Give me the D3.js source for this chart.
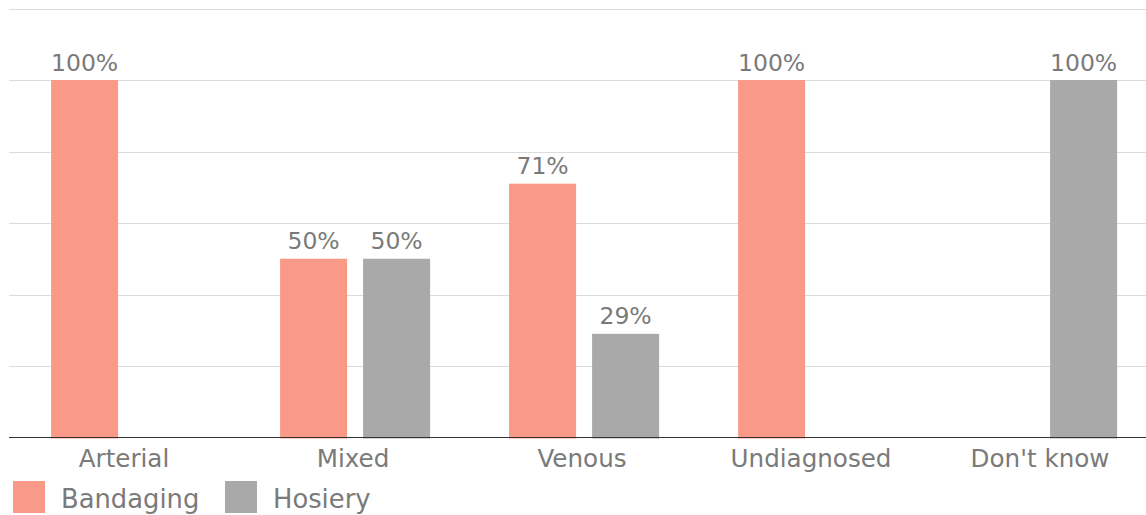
<!DOCTYPE html>
<html><head><meta charset="utf-8">
<script src="https://cdn.jsdelivr.net/npm/d3@7/dist/d3.min.js"></script>
<style>body{margin:0;background:#fff;}svg{display:block;font-family:"DejaVu Sans",Verdana,sans-serif;}</style>
</head><body>
<svg id="chart" width="1146" height="515"></svg>
<script>
const categories = ["Arterial","Mixed","Venous","Undiagnosed","Don't know"];
const series = ["Bandaging","Hosiery"];
const bandaging = [100, 50, 71, 100, null];
const hosiery = [null, 50, 29, null, 100];
const yTicks = [0, 20, 40, 60, 80, 100, 120];
const colors = {"Bandaging":"#f99a89","Hosiery":"#a9a9aa"};

const svg = d3.select("#chart");
const textColor = "#7a7a7a";
const y = d3.scaleLinear().domain([0, 100]).range([437.5, 80]);
const x = d3.scaleBand().domain(categories).range([11.5, 1156.5]).padding(0);
const xs = d3.scaleBand().domain(series).range([39.6, 189.6]).paddingInner(16/83).paddingOuter(0);

// gridlines
svg.append("g").selectAll("line").data(yTicks.filter(t => t > 0)).join("line")
  .attr("x1", 9).attr("x2", 1146)
  .attr("y1", d => Math.round(y(d)) + 0.5).attr("y2", d => Math.round(y(d)) + 0.5)
  .attr("stroke", "#dcdcdc").attr("stroke-width", 1);

const data = [];
categories.forEach((c, i) => {
  if (bandaging[i] != null) data.push({c, s: "Bandaging", v: bandaging[i]});
  if (hosiery[i] != null) data.push({c, s: "Hosiery", v: hosiery[i]});
});

svg.append("g").selectAll("rect").data(data).join("rect")
  .attr("x", d => x(d.c) + xs(d.s))
  .attr("width", xs.bandwidth())
  .attr("y", d => y(d.v))
  .attr("height", d => y(0) - y(d.v) + 1)
  .attr("fill", d => colors[d.s]);

svg.append("g").selectAll("text").data(data).join("text")
  .attr("x", d => x(d.c) + xs(d.s) + xs.bandwidth() / 2)
  .attr("y", d => y(d.v) - 9.5)
  .attr("text-anchor", "middle")
  .attr("font-size", "23.5px")
  .attr("fill", textColor)
  .text(d => d.v + "%");

// baseline
svg.append("line").attr("x1", 9).attr("x2", 1146)
  .attr("y1", 437.5).attr("y2", 437.5)
  .attr("stroke", "#333").attr("stroke-width", 1.2);

// x axis labels
const xAxis = d3.axisBottom(x).tickSize(0).tickPadding(0);
const gx = svg.append("g").attr("transform", "translate(0,467)").call(xAxis);
gx.select(".domain").remove();
gx.selectAll("text").attr("y", 0).attr("dy", 0)
  .attr("font-size", "24.6px").attr("fill", textColor)
  .attr("font-family", "DejaVu Sans, Verdana, sans-serif")
  .attr("transform", "translate(-2,0)");

// legend
const legendX = [13, 225];
const lg = svg.append("g").selectAll("g").data(series).join("g")
  .attr("transform", (d, i) => `translate(${legendX[i]},481)`);
lg.append("rect").attr("width", 32).attr("height", 32).attr("fill", d => colors[d]);
lg.append("text").attr("x", 48).attr("y", 26.5)
  .attr("font-size", "25.8px").attr("fill", textColor).text(d => d);
</script>
</body></html>
